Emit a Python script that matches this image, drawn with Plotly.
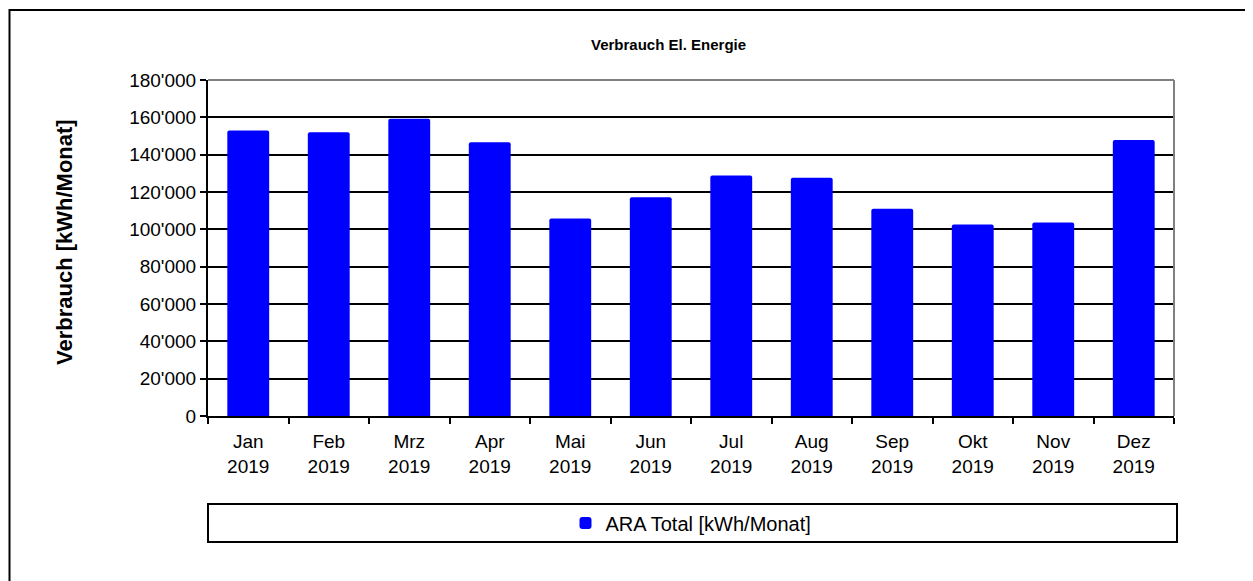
import plotly.graph_objects as go

months = ["Jan", "Feb", "Mrz", "Apr", "Mai", "Jun", "Jul", "Aug", "Sep", "Okt", "Nov", "Dez"]
year = "2019"
values = [153000, 152000, 159300, 146700, 105800, 117200, 128900, 127700, 111000, 102600, 103700, 147800]
y_ticks = [0, 20000, 40000, 60000, 80000, 100000, 120000, 140000, 160000, 180000]
series_name = "ARA Total [kWh/Monat]"
title_text = "Verbrauch El. Energie"
y_title = "Verbrauch [kWh/Monat]"

categories = [f"{m}<br>{year}" for m in months]

OFF = 8  # default page body margin
W, H = 1253 - OFF, 581 - OFF
# plot area in reference (window) pixels
L, R, T, B = 208, 1174, 80, 416
pw, ph = R - L, B - T

def px(x):
    return (x - L) / pw

def py(y):
    return (B - y) / ph

FONT = "Arial, Liberation Sans, sans-serif"

fig = go.Figure()
fig.add_trace(go.Bar(
    x=categories, y=values, name=series_name,
    marker=dict(color="#0000FF", line=dict(width=0), cornerradius=2),
    width=0.52,
))

fig.update_layout(
    width=W, height=H,
    margin=dict(l=L - OFF, r=W - (R - OFF), t=T - OFF, b=H - (B - OFF), pad=0),
    paper_bgcolor="white", plot_bgcolor="white",
    separators=".'",
    font=dict(family=FONT, color="black", size=19),
    showlegend=True,
    legend=dict(orientation="h", x=0.5, xanchor="center", y=py(523), yanchor="middle",
                font=dict(size=20, family=FONT), bgcolor="rgba(0,0,0,0)", itemwidth=30),
)

fig.update_xaxes(
    showgrid=False, showline=True, linecolor="black", linewidth=2,
    ticks="outside", tickson="boundaries", ticklen=6, tickwidth=1.5, tickcolor="black",
    tickfont=dict(size=19), ticklabelstandoff=7, fixedrange=True,
)
fig.update_yaxes(
    range=[0, 180000], tickvals=y_ticks, tickformat=",d",
    showgrid=True, gridcolor="black", gridwidth=1.5,
    showline=True, linecolor="black", linewidth=2,
    ticks="outside", ticklen=6, tickwidth=1.5, tickcolor="black",
    tickfont=dict(size=19), zeroline=False,
)

fig.add_annotation(text=f"<b>{title_text}</b>", x=px(668), y=py(45), xref="paper", yref="paper",
                   showarrow=False, font=dict(size=15, family=FONT), xanchor="center", yanchor="middle")
fig.add_annotation(text=f"<b>{y_title}</b>", x=px(65), y=py(242), xref="paper", yref="paper",
                   showarrow=False, textangle=-90, font=dict(size=22, family=FONT),
                   xanchor="center", yanchor="middle")

shapes = [
    dict(type="line", xref="paper", yref="paper", x0=0, x1=1, y0=1, y1=1,
         line=dict(color="#808080", width=2), layer="above"),
    dict(type="line", xref="paper", yref="paper", x0=1, x1=1, y0=0, y1=1,
         line=dict(color="#808080", width=2), layer="above"),
    dict(type="rect", xref="paper", yref="paper", x0=0, x1=px(1177), y0=py(542), y1=py(504),
         line=dict(color="black", width=2), fillcolor="rgba(0,0,0,0)"),
    dict(type="rect", xref="paper", yref="paper", x0=px(9.5), x1=px(1265), y0=py(600), y1=py(10),
         line=dict(color="black", width=2), fillcolor="rgba(0,0,0,0)"),
]
fig.update_layout(shapes=shapes)

fig.write_html("out.html")
